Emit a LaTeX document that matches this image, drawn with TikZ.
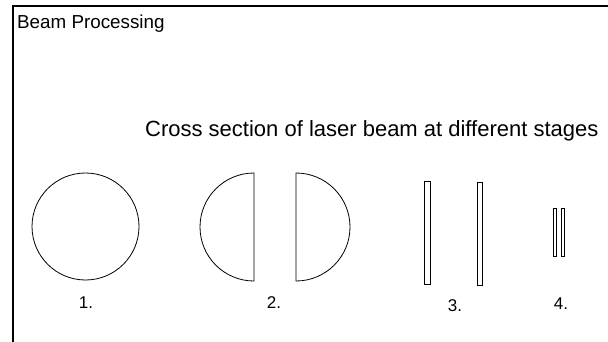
\documentclass[tikz,border=0pt]{standalone}
\usepackage{fontspec}
\setmainfont{Liberation Sans}
\usetikzlibrary{positioning}
\tikzset{
  frameline/.style={line width=2pt},
  beamline/.style={line width=.8pt},
  slit/.style={draw,line width=.9pt},
  stagelabel/.style={anchor=base,inner sep=0pt,font=\fontsize{17}{19}\selectfont},
}

\begin{document}
\begin{tikzpicture}[x=1pt,y=-1pt]
    \useasboundingbox (0,0) rectangle (608,341);
    \draw[frameline] (13,342) -- (13,6) -- (609,6);
    \node[anchor=base west,inner sep=0pt,font=\fontsize{18.8}{21}\selectfont] (title) at (17,28) {Beam Processing};
    \node[anchor=base west,inner sep=0pt,font=\fontsize{22}{24}\selectfont] (caption) at (145,136) {Cross section of laser beam at different stages};
    % stage 1: full beam
    \draw[beamline] (85.5,226.5) circle (53.5pt);
    % stage 2: split halves
    \draw[beamline] (254,173) arc[start angle=90,end angle=270,radius=54pt] -- cycle;
    \draw[beamline] (296,173) arc[start angle=90,end angle=-90,radius=54pt] -- cycle;
    % stage 3 and 4: slits
    \draw[slit] (424,181) rectangle (430,284);
    \draw[slit] (477,182) rectangle (482,285);
    \draw[slit] (553,208) rectangle (556,256);
    \draw[slit] (561,208) rectangle (564,256);
    \node[stagelabel] (one) at (86,308.5) {1.};
    \node[stagelabel] (two) at (274,308.5) {2.};
    \node[stagelabel] (three) at (455,311.5) {3.};
    \node[stagelabel] (four) at (561,309.5) {4.};
\end{tikzpicture}
\end{document}
